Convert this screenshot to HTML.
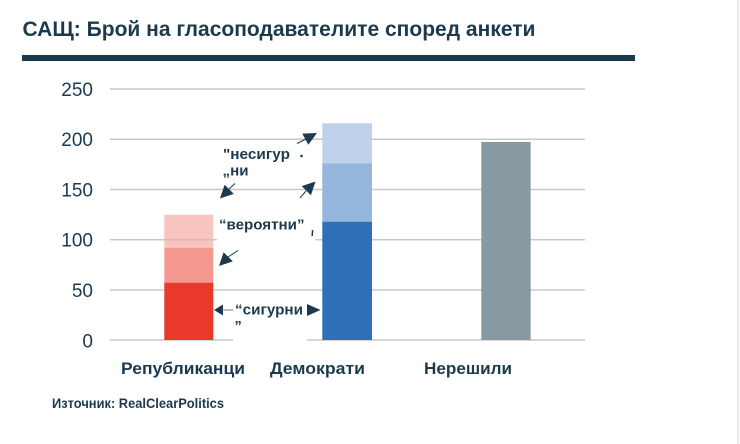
<!DOCTYPE html>
<html>
<head>
<meta charset="utf-8">
<style>
  html, body { margin: 0; padding: 0; background: #ffffff; }
  body { width: 740px; height: 444px; overflow: hidden; }
  svg { display: block; }
  text { font-family: "Liberation Sans", "DejaVu Sans", sans-serif; fill: #1c3a4f; }
</style>
</head>
<body>
<svg width="740" height="444" viewBox="0 0 740 444" xmlns="http://www.w3.org/2000/svg">
  <rect x="0" y="0" width="740" height="444" fill="#ffffff"/>
  <!-- right edge -->
  <rect x="737" y="0" width="1" height="444" fill="#e4e4e4"/>
  <rect x="738" y="0" width="2" height="444" fill="#f3f3f3"/>

  <!-- Title -->
  <text x="22.5" y="36" font-size="21" font-weight="bold" textLength="513" lengthAdjust="spacingAndGlyphs">САЩ: Брой на гласоподавателите според анкети</text>
  <rect x="22" y="55" width="613" height="6" fill="#1b3a4d"/>

  <!-- Gridlines -->
  <g stroke="#c8c8c8" stroke-width="1.5">
    <line x1="110" y1="89" x2="585" y2="89"/>
    <line x1="110" y1="139.3" x2="585" y2="139.3"/>
    <line x1="110" y1="189.5" x2="585" y2="189.5"/>
    <line x1="110" y1="239.7" x2="217" y2="239.7"/>
    <line x1="315" y1="239.7" x2="585" y2="239.7"/>
    <line x1="110" y1="290" x2="585" y2="290"/>
    <line x1="110" y1="340" x2="233" y2="340"/>
    <line x1="307" y1="340" x2="585" y2="340"/>
  </g>

  <!-- Y tick labels -->
  <g font-size="19" text-anchor="end">
    <text x="93" y="96">250</text>
    <text x="93" y="146">200</text>
    <text x="93" y="196.5">150</text>
    <text x="93" y="246.5">100</text>
    <text x="93" y="297">50</text>
    <text x="93" y="347.5">0</text>
  </g>

  <!-- Republicans bar -->
  <rect x="164.3" y="214.7" width="49" height="33" fill="#f8c4c0"/>
  <rect x="164.3" y="247.7" width="49" height="35" fill="#f4978e"/>
  <rect x="164.3" y="282.7" width="49" height="57.3" fill="#e8392b"/>
  <line x1="164.3" y1="239.7" x2="213.3" y2="239.7" stroke="#b0a0a0" stroke-opacity="0.35" stroke-width="1.5"/>

  <!-- Democrats bar -->
  <rect x="322.3" y="123.3" width="49.7" height="40" fill="#bdd1ea"/>
  <rect x="322.3" y="163.3" width="49.7" height="58.4" fill="#94b5dc"/>
  <rect x="322.3" y="221.7" width="49.7" height="118.3" fill="#2e6fba"/>

  <!-- Undecided bar -->
  <rect x="481.3" y="142" width="49.4" height="198" fill="#879aa1"/>

  <!-- Annotations -->
  <g fill="#1c3a4f" stroke="none">
    <!-- arrow 1 up-right -->
    <polygon points="317,133 308.3,144.8 302.3,133.6"/>
    <!-- arrow 2 down-left -->
    <polygon points="220,198.5 233.8,193.9 224.6,184.7"/>
    <!-- arrow 3 up-right -->
    <polygon points="315.5,181.5 310.9,195.3 301.7,186.1"/>
    <!-- arrow 4 down-left -->
    <polygon points="219,266 232.8,261.4 223.6,252.2"/>
    <!-- arrow 5 left -->
    <polygon points="214,310 223,304.5 223,315.5"/>
    <!-- arrow 6 right -->
    <polygon points="320.5,310 307,304 307,316"/>
    <circle cx="301.5" cy="156" r="1.3"/>
  </g>
  <g stroke="#1c3a4f" stroke-width="1" fill="none">
    <line x1="297" y1="143.5" x2="306" y2="139"/>
    <line x1="229" y1="189" x2="235" y2="183.5"/>
    <line x1="306" y1="191" x2="300" y2="198"/>
    <line x1="228" y1="257" x2="238" y2="250.5"/>
    <line x1="222" y1="310" x2="233" y2="310" stroke="#6a7f8c"/>
    <line x1="312.6" y1="230" x2="312.2" y2="236" stroke-width="1.5"/>
  </g>
  <g font-size="14.5" font-weight="bold">
    <text x="223" y="159" textLength="67" lengthAdjust="spacingAndGlyphs">"несигур</text>
    <text x="222.5" y="175.5" textLength="26" lengthAdjust="spacingAndGlyphs">„ни</text>
    <text x="219" y="229.5" textLength="85.5" lengthAdjust="spacingAndGlyphs">“вероятни”</text>
    <text x="235" y="314.5" textLength="68" lengthAdjust="spacingAndGlyphs">“сигурни</text>
    <text x="234.5" y="331">”</text>
  </g>

  <!-- Category labels -->
  <g font-size="17" font-weight="bold">
    <text x="121" y="374" textLength="124" lengthAdjust="spacingAndGlyphs">Републиканци</text>
    <text x="270" y="374" textLength="95" lengthAdjust="spacingAndGlyphs">Демократи</text>
    <text x="424" y="374" textLength="88" lengthAdjust="spacingAndGlyphs">Нерешили</text>
  </g>

  <!-- Source -->
  <text x="52" y="408" font-size="14" font-weight="bold" textLength="172" lengthAdjust="spacingAndGlyphs">Източник: RealClearPolitics</text>
</svg>
</body>
</html>
